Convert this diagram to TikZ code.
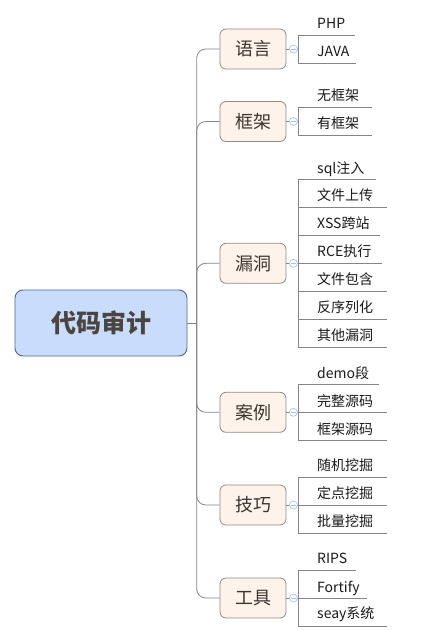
\documentclass[tikz,border=0pt]{standalone}
\usepackage{fontspec}
\setmainfont{Noto Sans CJK SC}
\begin{document}
\begin{tikzpicture}[x=1pt,y=-1pt,
  rootbox/.style={draw=rootborder,fill=rootfill,line width=0.9pt,rounded corners=8pt,
    minimum width=172pt,minimum height=66pt,font=\fontsize{25}{28}\selectfont\bfseries,text=roottext,inner sep=0pt},
  branchbox/.style={draw=branchborder,fill=branchfill,line width=0.8pt,rounded corners=6pt,
    minimum width=66pt,minimum height=40pt,font=\fontsize{18}{20}\selectfont,text=branchtext,inner sep=0pt},
  leaf/.style={anchor=west,inner sep=0pt,font=\fontsize{14}{16}\selectfont,text=leaftext,
    text height=0.83em,text depth=0.07em,yshift=-2.5pt},
  conn/.style={draw=linecol,line width=0.8pt},
  trunk/.style={conn,rounded corners=9pt},
  leafline/.style={draw=linecol,line width=0.8pt},
  knob/.style={circle,draw=knobcol,fill=white,line width=0.7pt,minimum size=8pt,inner sep=0pt}
]
\definecolor{rootborder}{HTML}{4A6896}
\definecolor{rootfill}{HTML}{C9DCFB}
\definecolor{roottext}{HTML}{4A4540}
\definecolor{branchborder}{HTML}{8F8A84}
\definecolor{branchfill}{HTML}{FDF3EA}
\definecolor{branchtext}{HTML}{3A3530}
\definecolor{leaftext}{HTML}{1A1A1A}
\definecolor{linecol}{HTML}{858585}
\definecolor{knobcol}{HTML}{A9C1EC}
\useasboundingbox[fill=white] (0,0) rectangle (430,631);

% root
\node[rootbox] (root) at (101,323) {代码审计};
\coordinate (tr) at (196.7,323);
\draw[conn] (root.east) -- (tr);

% branches
\node[branchbox] (b1) at (253,49) {语言};
\node[branchbox] (b2) at (253,121.5) {框架};
\node[branchbox] (b3) at (253,263.3) {漏洞};
\node[branchbox] (b4) at (253,412.3) {案例};
\node[branchbox] (b5) at (253,505) {技巧};
\node[branchbox] (b6) at (253,598) {工具};
\foreach \b in {b1,b2,b3,b4,b5,b6}{
  \draw[trunk] (tr) |- (\b.west);
}

% knobs and branch-to-leaf connectors
\foreach \b/\n in {b1/k1,b2/k2,b3/k3,b4/k4,b5/k5,b6/k6}{
  \coordinate (\n e) at (298,0 |- \b.east);
  \draw[conn] (\b.east) -- (\n e);
  \node[knob] (\n) at ([xshift=7pt]\b.east) {};
  \draw[knobcol,line width=0.7pt] ([xshift=-2.3pt]\n.center) -- ([xshift=2.3pt]\n.center);
}

% leaves: 语言
\node[leaf] (l11) at (317,22) {PHP};
\node[leaf] (l12) at (317,50) {JAVA};
\draw[leafline] (298,35.3) -- (355,35.3);
\draw[leafline] (298,63) -- (356,63);
\draw[leafline] (298,35.3) -- (298,63);

% 框架
\node[leaf] (l21) at (317,94.3) {无框架};
\node[leaf] (l22) at (317,122) {有框架};
\draw[leafline] (298,107.3) -- (372,107.3);
\draw[leafline] (298,135.3) -- (372,135.3);
\draw[leafline] (298,107.3) -- (298,135.3);

% 漏洞
\node[leaf] (l31) at (317,166.7) {sql注入};
\node[leaf] (l32) at (317,194.3) {文件上传};
\node[leaf] (l33) at (317,222.3) {XSS跨站};
\node[leaf] (l34) at (317,250) {RCE执行};
\node[leaf] (l35) at (317,278.3) {文件包含};
\node[leaf] (l36) at (317,306) {反序列化};
\node[leaf] (l37) at (317,333.7) {其他漏洞};
\foreach \y/\e in {179.3/376,207.3/387,235.3/380,263.3/382,291.3/387,319.3/387,347.3/387}{
  \draw[leafline] (298,\y) -- (\e,\y);
}
\draw[leafline] (298,179.3) -- (298,347.3);

% 案例
\node[leaf] (l41) at (317,371.7) {demo段};
\node[leaf] (l42) at (317,400) {完整源码};
\node[leaf] (l43) at (317,427.7) {框架源码};
\foreach \y/\e in {384/379,412.3/387,440/387}{
  \draw[leafline] (298,\y) -- (\e,\y);
}
\draw[leafline] (298,384) -- (298,440);

% 技巧
\node[leaf] (l51) at (317,464) {随机挖掘};
\node[leaf] (l52) at (317,492) {定点挖掘};
\node[leaf] (l53) at (317,520) {批量挖掘};
\foreach \y/\e in {477/387,505/387,533/387}{
  \draw[leafline] (298,\y) -- (\e,\y);
}
\draw[leafline] (298,477) -- (298,533);

% 工具
\node[leaf] (l61) at (317,557.3) {RIPS};
\node[leaf] (l62) at (317,586) {Fortify};
\node[leaf] (l63) at (317,612.5) {seay系统};
\foreach \y/\e in {570/356,598/367,626/387}{
  \draw[leafline] (298,\y) -- (\e,\y);
}
\draw[leafline] (298,570) -- (298,626);
\end{tikzpicture}
\end{document}
